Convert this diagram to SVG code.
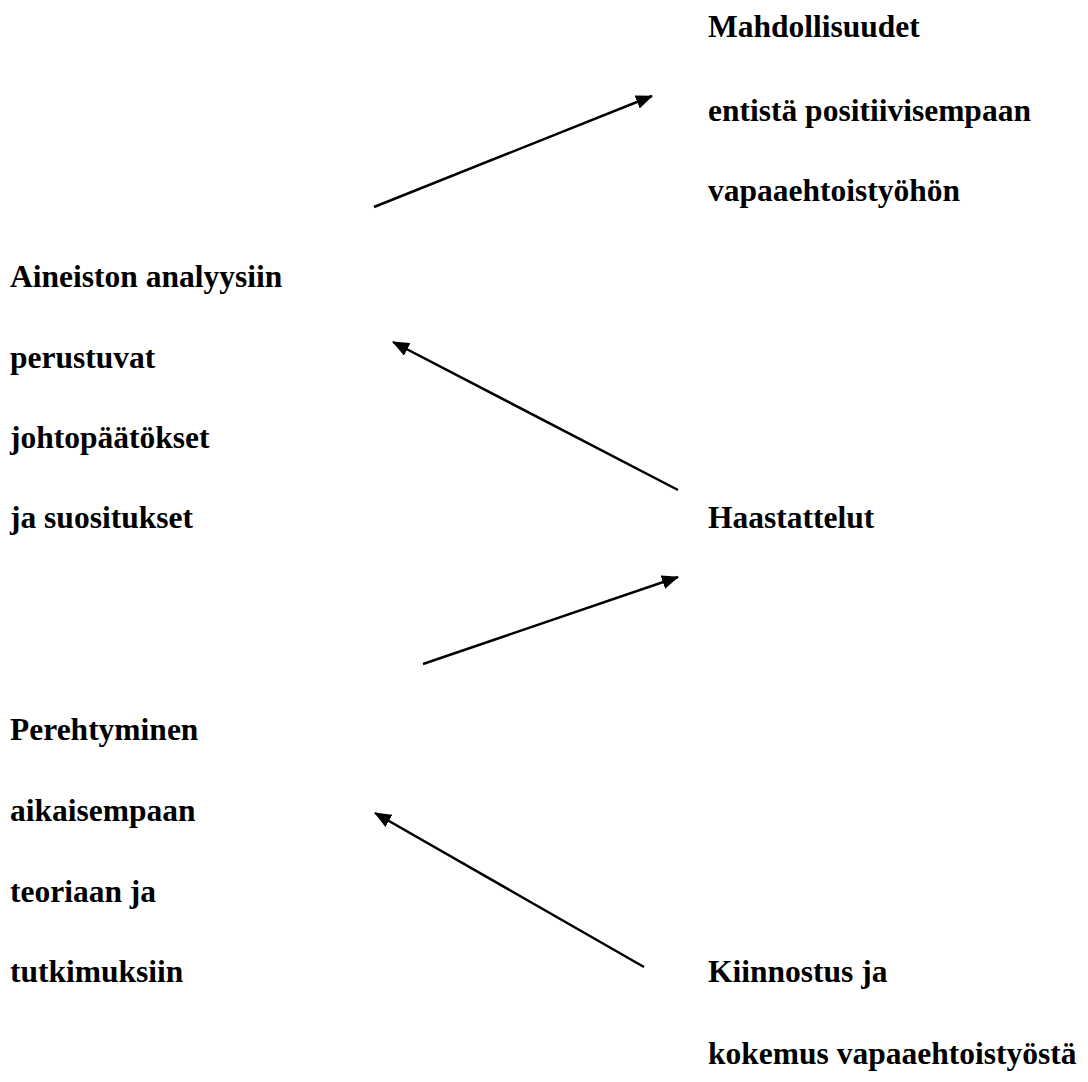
<svg xmlns="http://www.w3.org/2000/svg" width="1088" height="1082" viewBox="0 0 1088 1082">
<style>
.t{font-family:"Liberation Serif","Times New Roman",serif;font-weight:bold;font-size:31.5px;fill:#000}
.c{stroke:#000;stroke-width:2.5;fill:none}
</style>
<defs>
<marker id="ah" markerUnits="userSpaceOnUse" viewBox="0 0 17 14" refX="16" refY="7" markerWidth="17" markerHeight="14" orient="auto">
<path d="M0,0 L17,7 L0,14 z" fill="#000"/>
</marker>
</defs>
<rect width="1088" height="1082" fill="#fff"/>
<g id="n-mahdollisuudet">
<text class="t" x="708" y="37">Mahdollisuudet</text>
<text class="t" x="708" y="121">entistä positiivisempaan</text>
<text class="t" x="708" y="201">vapaaehtoistyöhön</text>
</g>
<g id="n-johtopaatokset">
<text class="t" x="10" y="287">Aineiston analyysiin</text>
<text class="t" x="10" y="368">perustuvat</text>
<text class="t" x="10" y="448">johtopäätökset</text>
<text class="t" x="10" y="528">ja suositukset</text>
</g>
<g id="n-haastattelut">
<text class="t" x="708" y="528">Haastattelut</text>
</g>
<g id="n-perehtyminen">
<text class="t" x="10" y="740">Perehtyminen</text>
<text class="t" x="10" y="821">aikaisempaan</text>
<text class="t" x="10" y="902">teoriaan ja</text>
<text class="t" x="10" y="982">tutkimuksiin</text>
</g>
<g id="n-kiinnostus">
<text class="t" x="708" y="982">Kiinnostus ja</text>
<text class="t" x="708" y="1064">kokemus vapaaehtoistyöstä</text>
</g>
<g id="connectors">
<line class="c" x1="374" y1="207" x2="652" y2="96" marker-end="url(#ah)"/>
<line class="c" x1="678" y1="490" x2="393" y2="342" marker-end="url(#ah)"/>
<line class="c" x1="423" y1="664" x2="678" y2="577" marker-end="url(#ah)"/>
<line class="c" x1="644" y1="967" x2="375" y2="813" marker-end="url(#ah)"/>
</g>
</svg>
